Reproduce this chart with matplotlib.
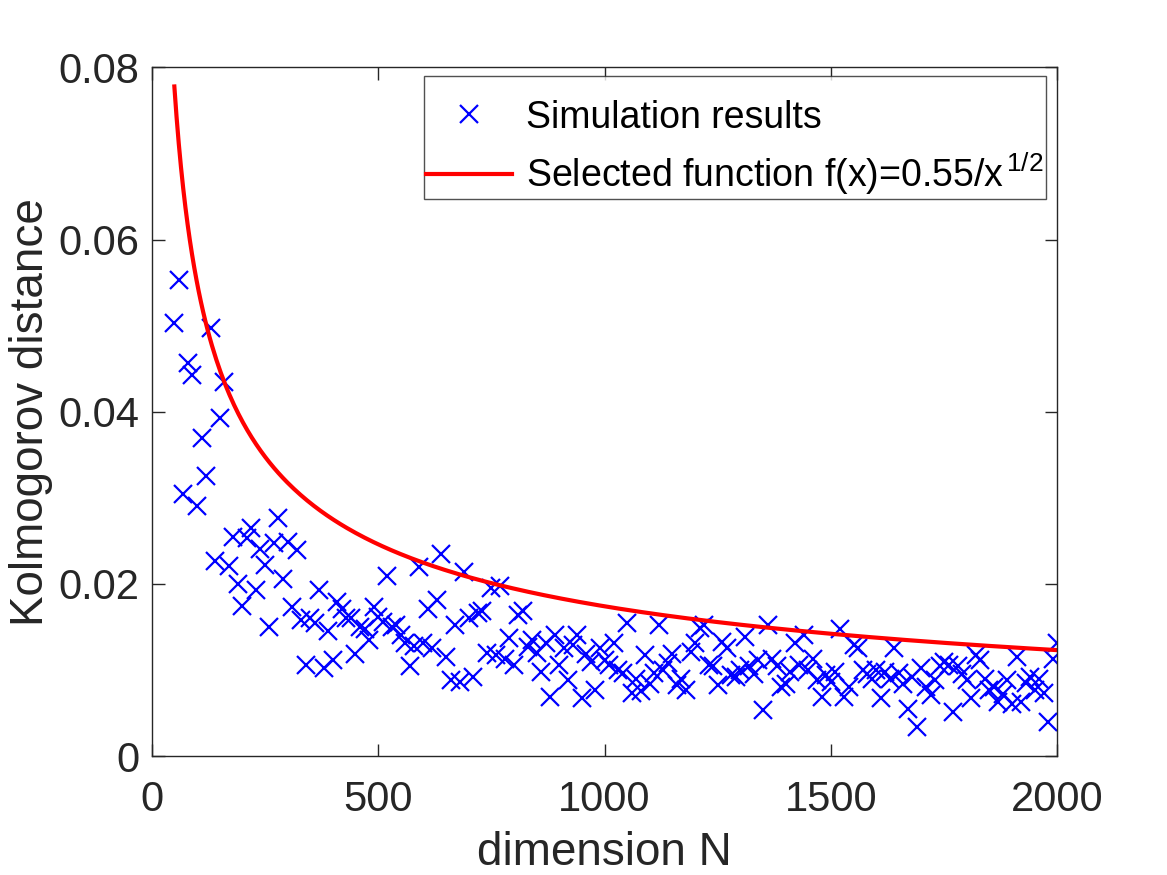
import numpy as np
import matplotlib
matplotlib.use("Agg")
import matplotlib.pyplot as plt

plt.rcParams['font.family'] = ['Liberation Sans', 'DejaVu Sans']
plt.rcParams['mathtext.fontset'] = 'custom'
plt.rcParams['mathtext.rm'] = 'Liberation Sans'
plt.rcParams['mathtext.it'] = 'Liberation Sans'

# Simulation results: dimension N (50..2000 step 10) and Kolmogorov distance
dims = np.arange(50, 2001, 10)
kdist = [
    0.0503, 0.0553, 0.0304, 0.0457, 0.0443, 0.0291, 0.0370, 0.0325, 0.0497, 0.0226,
    0.0393, 0.0435, 0.0221, 0.0255, 0.0200, 0.0174, 0.0253, 0.0265, 0.0193, 0.0241,
    0.0222, 0.0150, 0.0247, 0.0276, 0.0206, 0.0249, 0.0173, 0.0239, 0.0158, 0.0106,
    0.0160, 0.0155, 0.0193, 0.0102, 0.0145, 0.0111, 0.0179, 0.0171, 0.0160, 0.0160,
    0.0119, 0.0150, 0.0148, 0.0135, 0.0173, 0.0161, 0.0156, 0.0209, 0.0150, 0.0152,
    0.0140, 0.0131, 0.0104, 0.0128, 0.0219, 0.0131, 0.0171, 0.0125, 0.0181, 0.0235,
    0.0115, 0.0088, 0.0152, 0.0086, 0.0214, 0.0160, 0.0092, 0.0166, 0.0168, 0.0120,
    0.0195, 0.0117, 0.0197, 0.0113, 0.0137, 0.0106, 0.0164, 0.0168, 0.0127, 0.0135,
    0.0120, 0.0098, 0.0131, 0.0069, 0.0140, 0.0106, 0.0125, 0.0088, 0.0129, 0.0140,
    0.0067, 0.0118, 0.0109, 0.0077, 0.0125, 0.0112, 0.0106, 0.0131, 0.0100, 0.0096,
    0.0154, 0.0073, 0.0090, 0.0075, 0.0117, 0.0084, 0.0096, 0.0152, 0.0100, 0.0108,
    0.0119, 0.0082, 0.0090, 0.0077, 0.0121, 0.0131, 0.0149, 0.0152, 0.0106, 0.0104,
    0.0082, 0.0133, 0.0125, 0.0094, 0.0092, 0.0100, 0.0138, 0.0104, 0.0095, 0.0111,
    0.0053, 0.0152, 0.0113, 0.0105, 0.0080, 0.0084, 0.0098, 0.0131, 0.0106, 0.0140,
    0.0100, 0.0113, 0.0088, 0.0069, 0.0094, 0.0086, 0.0098, 0.0148, 0.0069, 0.0080,
    0.0129, 0.0126, 0.0100, 0.0095, 0.0090, 0.0100, 0.0067, 0.0098, 0.0090, 0.0125,
    0.0096, 0.0084, 0.0055, 0.0092, 0.0034, 0.0102, 0.0080, 0.0071, 0.0088, 0.0105,
    0.0109, 0.0106, 0.0051, 0.0104, 0.0095, 0.0088, 0.0067, 0.0117, 0.0112, 0.0090,
    0.0077, 0.0080, 0.0063, 0.0072, 0.0088, 0.0060, 0.0115, 0.0063, 0.0085, 0.0092,
    0.0077, 0.0090, 0.0073, 0.0040, 0.0113, 0.0131,
]

# Selected function f(x) = 0.55 / sqrt(x)
coef = 0.55
fx = np.linspace(50, 2000, 400)
fy = coef / np.sqrt(fx)

xticks = [0, 500, 1000, 1500, 2000]
yticks = [0, 0.02, 0.04, 0.06, 0.08]
ytick_labels = ['0', '0.02', '0.04', '0.06', '0.08']

fig = plt.figure(figsize=(11.67, 8.75), dpi=100)
ax = fig.add_axes([0.130, 0.136, 0.776, 0.787])

ax.plot(dims, kdist, linestyle='none', marker='x', color='#0000ff',
        markersize=13, markeredgewidth=1.6, label='Simulation results')
ax.plot(fx, fy, color='#ff0000', linewidth=3.0,
        label=r'Selected function f(x)=0.55/x$^{\,1/2}$')

ax.set_xlim(0, 2000)
ax.set_ylim(0, 0.08)
ax.set_xticks(xticks)
ax.set_yticks(yticks)
ax.set_yticklabels(ytick_labels)

tc = '#262626'
ax.tick_params(direction='in', top=True, right=True, length=9, width=1.0,
               labelsize=30, colors=tc)
ax.tick_params(axis='x', pad=17)
ax.tick_params(axis='y', pad=9)
for sp in ax.spines.values():
    sp.set_color(tc)
    sp.set_linewidth(1.0)

ax.set_xlabel('dimension N', fontsize=33, color=tc, labelpad=8)
ax.set_ylabel('Kolmogorov distance', fontsize=33, color=tc, labelpad=4)

leg = ax.legend(loc='upper right', fontsize=27, frameon=True, fancybox=False,
                edgecolor=tc, borderpad=0.05, handlelength=2.3, handletextpad=0.38,
                bbox_to_anchor=(0.987, 0.988), borderaxespad=0.0, labelspacing=0.4,
                title=' ', title_fontsize=6)
leg.get_frame().set_linewidth(1.0)

fig.savefig('out.png', dpi=100, facecolor='white')
